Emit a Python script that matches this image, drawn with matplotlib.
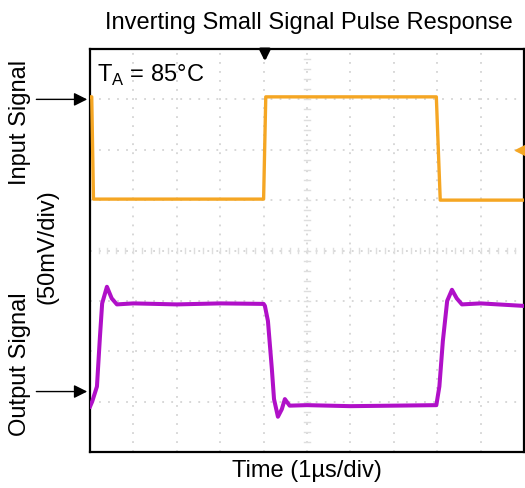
import numpy as np
import matplotlib
matplotlib.use('Agg')
import matplotlib.pyplot as plt

plt.rcParams['font.family'] = ['Liberation Sans', 'DejaVu Sans']
plt.rcParams['mathtext.fontset'] = 'custom'
plt.rcParams['mathtext.rm'] = 'Liberation Sans'

# time in divisions (1 us/div), amplitude in divisions (50 mV/div)
input_t = [0.0, 0.04, 0.08, 4.0, 4.05, 7.98, 8.07, 10.0]
input_v = [7.05, 7.05, 5.02, 5.02, 7.05, 7.05, 5.0, 5.0]

output_t = [0.0, 0.05, 0.16, 0.23, 0.28, 0.39, 0.5, 0.62, 1.0, 2.0, 3.0, 4.0,
            4.03, 4.1, 4.19, 4.24, 4.33, 4.42, 4.49, 4.6, 5.0, 6.0, 7.0, 7.98,
            8.05, 8.13, 8.23, 8.34, 8.45, 8.57, 9.0, 10.0]
output_v = [0.9, 1.0, 1.3, 2.3, 2.95, 3.28, 3.05, 2.93, 2.95, 2.93, 2.95, 2.94,
            2.9, 2.6, 1.65, 1.05, 0.7, 0.85, 1.05, 0.92, 0.93, 0.91, 0.92, 0.93,
            1.3, 2.2, 3.0, 3.22, 3.05, 2.93, 2.95, 2.9]

orange = '#F5A623'
purple = '#B010C8'
fs = 17

fig = plt.figure(figsize=(5.25, 4.89), dpi=100)
ax = fig.add_axes([90 / 525, 1 - 453 / 489, 434 / 525, 403 / 489])

ax.set_xlim(0, 10)
ax.set_ylim(0, 8)

# scope graticule
for gx in range(1, 10):
    ax.axvline(gx, color='#d4d4d4', lw=1.3, ls=(0, (1, 4)), zorder=0)
for gy in range(1, 8):
    ax.axhline(gy, color='#d4d4d4', lw=1.3, ls=(0, (1, 4)), zorder=0)
for m in np.arange(0.2, 8, 0.2):
    ax.plot([4.94, 5.06], [m, m], color='#dedede', lw=1, zorder=0)
for m in np.arange(0.2, 10, 0.2):
    ax.plot([m, m], [3.95, 4.05], color='#dedede', lw=1, zorder=0)

ax.plot(input_t, input_v, color=orange, lw=2.4, zorder=3)
ax.plot(output_t, output_v, color=purple, lw=2.9, zorder=3)

ax.set_xticks([])
ax.set_yticks([])
for s in ax.spines.values():
    s.set_color('black')
    s.set_linewidth(1.6)

# trigger and reference markers
ax.annotate('', xy=(4.03, 7.7), xytext=(4.03, 8.0),
            arrowprops=dict(arrowstyle='-|>', color='black', lw=2.2,
                            mutation_scale=16), annotation_clip=False)
ax.plot([9.93], [6.0], marker='<', color=orange, ms=8, clip_on=False, zorder=4)

ax.text(0.15, 7.5, r'T$_{\mathrm{A}}$ = 85°C', fontsize=fs, va='center', ha='left')

fig.text(309 / 525, 1 - 23 / 489, 'Inverting Small Signal Pulse Response',
         fontsize=fs, ha='center', va='center')
fig.text(307 / 525, 1 - 471 / 489, 'Time (1µs/div)', fontsize=fs,
         ha='center', va='center')
fig.text(20 / 525, 1 - 122 / 489, 'Input Signal', fontsize=fs, rotation=90,
         ha='center', va='center')
fig.text(20 / 525, 1 - 364 / 489, 'Output Signal', fontsize=fs, rotation=90,
         ha='center', va='center')
fig.text(47 / 525, 1 - 247 / 489, '(50mV/div)', fontsize=fs, rotation=90,
         ha='center', va='center')

# channel arrows
for yy in (7.0, 1.2):
    ax.annotate('', xy=(0.0, yy), xytext=(-1.3, yy),
                arrowprops=dict(arrowstyle='-|>', color='black', lw=1.0,
                                mutation_scale=20), annotation_clip=False)

fig.savefig('out.png', dpi=100)
